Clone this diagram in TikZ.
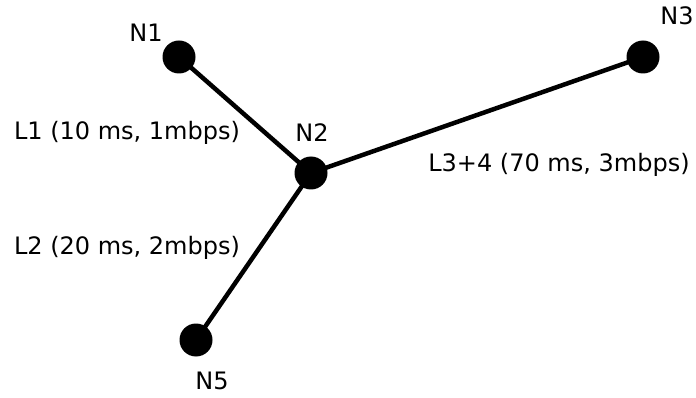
\documentclass[tikz,border=0pt]{standalone}
\usepackage{fontspec}
\setmainfont{DejaVu Sans}
\begin{document}
\begin{tikzpicture}[x=1pt,y=-1pt,
  netnode/.style={circle,fill=black,inner sep=0pt,minimum size=33pt},
  lbl/.style={inner sep=0pt,font=\fontsize{24}{28}\selectfont},
  link/.style={line width=4.5pt}]
\useasboundingbox (0,0) rectangle (696,398);
\node[netnode] (n1) at (179,57) {};
\node[netnode] (n2) at (311,173) {};
\node[netnode] (n3) at (643,57) {};
\node[netnode] (n5) at (196,340) {};
\draw[link] (n1.center) -- (n2.center);
\draw[link] (n2.center) -- (n3.center);
\draw[link] (n2.center) -- (n5.center);
\node[lbl] (t1) at (146,33) {N1};
\node[lbl] (t2) at (312,133) {N2};
\node[lbl] (t3) at (677,16) {N3};
\node[lbl] (t5) at (212,381) {N5};
\node[lbl] (l1) at (127,133) {L1 (10 ms, 1mbps)};
\node[lbl] (l2) at (127,248) {L2 (20 ms, 2mbps)};
\node[lbl] (l3) at (559,165) {L3+4 (70 ms, 3mbps)};
\end{tikzpicture}
\end{document}
